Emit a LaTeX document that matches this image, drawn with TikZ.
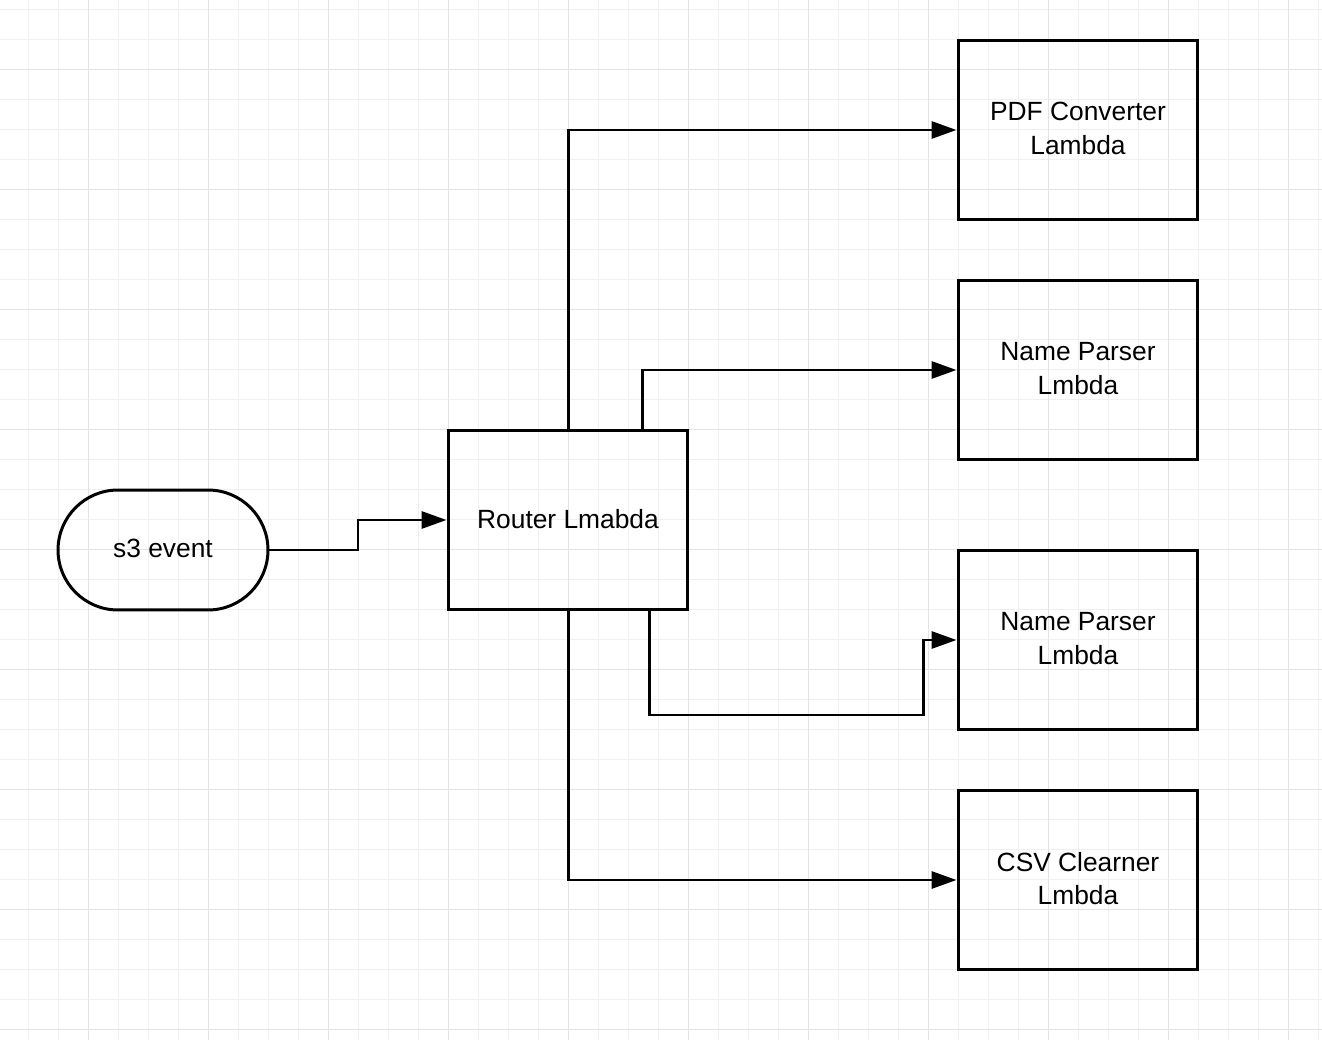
\documentclass[tikz,border=0pt]{standalone}
\usepackage{fontspec}
\setmainfont{Liberation Sans}
\usetikzlibrary{arrows.meta}
\tikzset{
  lambdabox/.style={draw, line width=1.7pt, minimum width=4.8cm, minimum height=3.6cm, align=center, inner sep=0pt, font=\fontsize{15}{18.8}\selectfont},
  eventnode/.style={draw, line width=1.7pt, minimum width=4.2cm, minimum height=2.4cm, rounded corners=1.2cm, inner sep=0pt, font=\fontsize{15}{18.8}\selectfont},
  flow/.style={line width=1.7pt, -{Triangle[length=0.5cm, width=0.34cm]}},
  minorline/.style={draw=black!6, line width=0.5pt},
  majorline/.style={draw=black!11, line width=0.5pt}
}
\begin{document}
\begin{tikzpicture}[x=0.02cm, y=-0.02cm]
    \useasboundingbox (0,0) rectangle (1322,1040);
    \fill[white] (0,0) rectangle (1322,1040);
    \foreach \gx in {28,58,...,1318} {\draw[minorline] (\gx,0) -- (\gx,1040);}
    \foreach \gy in {9,39,...,1039} {\draw[minorline] (0,\gy) -- (1322,\gy);}
    \foreach \gx in {88,208,...,1318} {\draw[majorline] (\gx,0) -- (\gx,1040);}
    \foreach \gy in {69,189,...,1039} {\draw[majorline] (0,\gy) -- (1322,\gy);}

    \node[eventnode] (s3) at (163,550) {\raisebox{0.06cm}{s3 event}};
    \node[lambdabox] (router) at (568,520) {\raisebox{0.06cm}{Router Lmabda}};
    \node[lambdabox] (pdf) at (1078,130) {\raisebox{0.06cm}{\shortstack{PDF Converter\\[5pt]Lambda}}};
    \node[lambdabox] (nameA) at (1078,370) {\raisebox{0.06cm}{\shortstack{Name Parser\\[5pt]Lmbda}}};
    \node[lambdabox] (nameB) at (1078,640) {\raisebox{0.06cm}{\shortstack{Name Parser\\[5pt]Lmbda}}};
    \node[lambdabox] (csv) at (1078,880) {\raisebox{0.06cm}{\shortstack{CSV Clearner\\[5pt]Lmbda}}};

    \draw[flow] (s3.east) -- (358,550) -- (358,520) -- (router.west);
    \draw[flow] (router.north) |- (pdf.west);
    \draw[flow] ([xshift=1.5cm]router.north) |- (nameA.west);
    \draw[flow] ([xshift=1.64cm]router.south) |- (923,715) -- (923,640) -- (nameB.west);
    \draw[flow] (router.south) |- (csv.west);
\end{tikzpicture}
\end{document}
